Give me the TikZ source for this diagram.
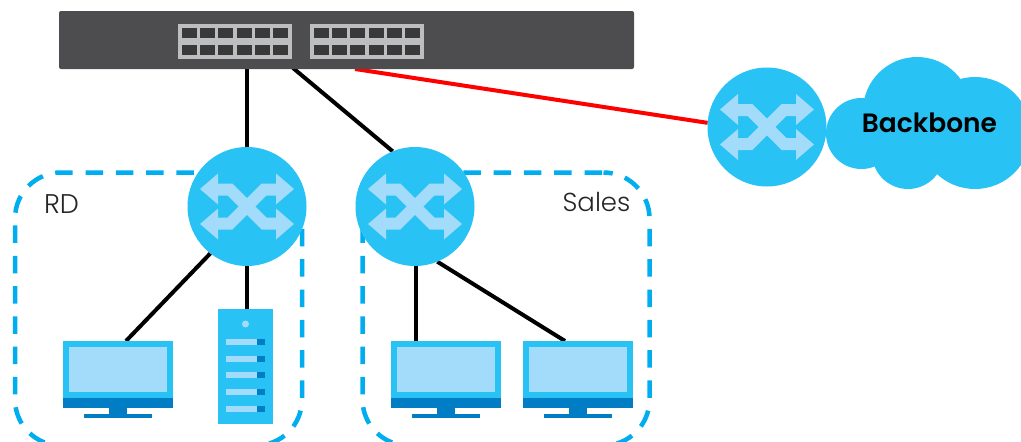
\documentclass[tikz,border=0pt]{standalone}
\usepackage{fontspec}
\setmainfont{Poppins}
\newfontfamily\lightface[UprightFont={* Light}]{Poppins}
\newfontfamily\semiface[UprightFont={* SemiBold}]{Poppins}
\usetikzlibrary{backgrounds,calc}
\definecolor{swblue}{RGB}{40,194,244}
\definecolor{swlight}{RGB}{163,220,250}
\definecolor{dashblue}{RGB}{0,174,239}
\definecolor{deepblue}{RGB}{0,125,197}
\definecolor{coregray}{RGB}{77,77,79}
\definecolor{panelgray}{RGB}{188,190,192}
\definecolor{portgray}{RGB}{57,57,57}
\tikzset{
  box/.style={inner sep=0pt,outer sep=0pt,draw=none,rectangle},
  switchdisc/.style={circle,fill=swblue,inner sep=0pt,outer sep=0pt,minimum size=119pt},
  link/.style={line width=4pt,black},
  uplink/.style={line width=4pt,red},
  zone/.style={rectangle,draw=dashblue,line width=4.5pt,rounded corners=46pt,dash pattern=on 17.5pt off 12.8pt,dash phase=28.8pt,inner sep=0pt,outer sep=0pt,minimum width=287pt,minimum height=273pt},
  zonelabel/.style={text=black!85,inner sep=0pt},
  arrowband/.style={draw=swlight,line width=12pt,miter limit=10},
  arrowtip/.style={fill=swlight,draw=none},
  pics/arrows/.style={code={
    \draw[arrowband] (-29,-17) -- (-17,-17) -- (17,17) -- (29,17);
    \draw[arrowband] (-29,17) -- (-17,17) -- (17,-17) -- (29,-17);
    \fill[arrowtip] (-47,-17.5) -- (-29,-33) -- (-29,-2) -- cycle;
    \fill[arrowtip] (-47,17.5) -- (-29,2) -- (-29,33) -- cycle;
    \fill[arrowtip] (47,-17.5) -- (29,-33) -- (29,-2) -- cycle;
    \fill[arrowtip] (47,17.5) -- (29,2) -- (29,33) -- cycle;
  }},
  pics/monitor/.style={code={
    \node[box,fill=swblue,minimum width=110pt,minimum height=57pt,anchor=north] (-body) at (0,0) {};
    \fill[swlight] (-49,6) rectangle (49,51);
    \fill[deepblue] (-55,57) rectangle (55,67);
    \fill[deepblue] (-9,67) rectangle (9,74);
    \fill[deepblue] (-34,73) rectangle (34,77);
  }},
  pics/panel/.style={code={
    \fill[panelgray] (0,0) rectangle (114,35);
    \foreach \r in {4.3,21}{
      \foreach \c in {0,...,5}{
        \fill[portgray] ({4+\c*18.2},\r) rectangle ({19+\c*18.2},\r+10);
      }
    }
  }}
}
\begin{document}
\begin{tikzpicture}[x=1pt,y=-1pt]
\useasboundingbox (0,0) rectangle (1021,442);
\begin{scope}
\clip (0,0) rectangle (1021,442);
% core switch
\node[box,fill=coregray,rounded corners=2pt,minimum width=575pt,minimum height=58pt] (core) at (346.5,40) {};
\pic at (178,24) {panel};
\pic at (310,24) {panel};
\coordinate (coreA) at (247,68);
\coordinate (coreB) at (293,68);
\coordinate (coreC) at (355,69);
% switches
\node[switchdisc] (sw1) at (247,206.5) {};
\pic at (247,206.5) {arrows};
\node[switchdisc] (sw2) at (415,206.5) {};
\pic at (415,206.5) {arrows};
\node[switchdisc] (sw3) at (767,127) {};
\pic at (767,127) {arrows};
% devices
\pic (m1) at (118,341) {monitor};
\pic (m2) at (445.5,341) {monitor};
\pic (m3) at (577.5,341) {monitor};
\node[box,fill=swblue,minimum width=55pt,minimum height=115pt] (srv) at (245.5,366.5) {};
\fill[swlight] (245.5,324) circle (3.5);
\foreach \y in {339,355.7,372.3,389,405.6}{
  \fill[swlight] (226,\y) rectangle (257,\y+6);
  \fill[deepblue] (257,\y) rectangle (265,\y+6);
}
% cloud
\fill[swblue] (861.5,133.5) circle (35.5);
\fill[swblue] (917,111) circle (54);
\fill[swblue] (975,133) circle (56);
\fill[swblue] (908,153) circle (36);
\fill[swblue] (880,110) rectangle (980,170);
\node[font=\semiface\fontsize{26.5}{28}\selectfont,text=black,inner sep=0pt] (bb) at (929.5,123) {Backbone};
% labels
\node[zonelabel,font=\lightface\fontsize{27}{30}\selectfont] (rd) at (61.5,204) {RD};
\node[zonelabel,font=\lightface\fontsize{26}{30}\selectfont] (sales) at (596.5,202) {Sales};
\coordinate (m1top) at ([xshift=8pt]m1-body.north);
\coordinate (m2top) at ([xshift=-29.5pt]m2-body.north);
\coordinate (m3top) at ([xshift=-12.5pt]m3-body.north);
\coordinate (srvtop) at ([xshift=1.5pt]srv.north);
\begin{scope}[on background layer]
  \node[zone] (zoneRD) at (158.5,309) {};
  \node[zone] (zoneSales) at (506,309) {};
  \draw[link] (coreA) -- (sw1);
  \draw[link] (coreB) -- (sw2.112.5);
  \draw[uplink] (coreC) -- (sw3.176);
  \draw[link] (sw1.232.5) -- (m1top);
  \draw[link] (srvtop) -- (sw1);
  \draw[link] (m2top) -- (m2top |- sw2.south);
  \draw[link] (sw2.-68.7) -- (m3top);
\end{scope}
\end{scope}
\end{tikzpicture}
\end{document}
